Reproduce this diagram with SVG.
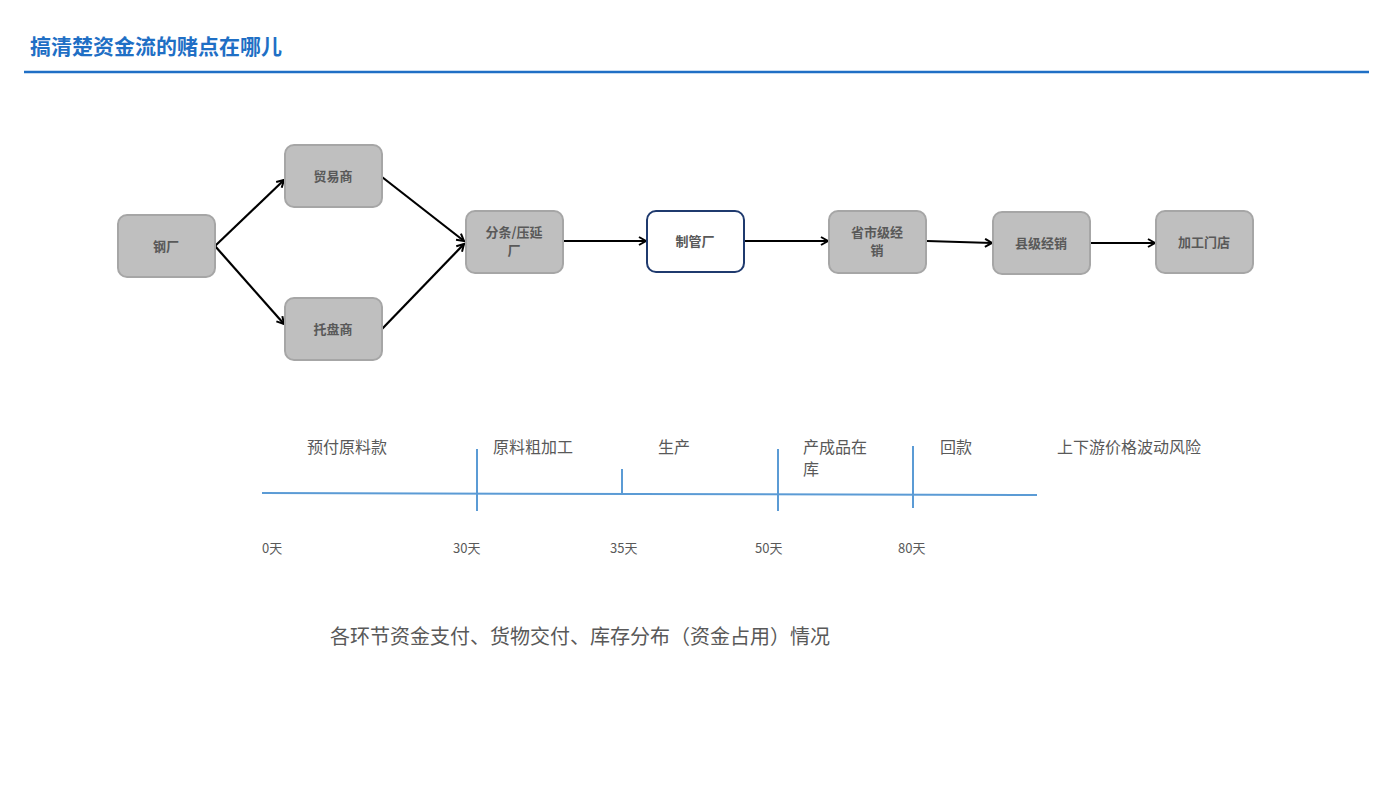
<svg xmlns="http://www.w3.org/2000/svg" width="1399" height="787" viewBox="0 0 1399 787">
<style>
.n rect{fill:#bfbfbf;stroke:#a6a6a6;stroke-width:2}
.n text{font-family:"Noto Sans CJK SC",sans-serif;font-size:13px;font-weight:bold;fill:#595959;text-anchor:middle}
.c line{stroke:#000;stroke-width:2.2;marker-end:url(#a)}
.t{font-family:"Noto Sans CJK SC",sans-serif;font-size:16px;fill:#595959}
.d{font-family:"Noto Sans CJK SC",sans-serif;font-size:13px;fill:#595959}
.tl line{stroke:#5b9bd5;stroke-width:2}
</style>
<defs><marker id="a" markerWidth="10" markerHeight="10" refX="8" refY="5" orient="auto" markerUnits="userSpaceOnUse"><path d="M1,1 L8,5 L1,9" fill="none" stroke="#000" stroke-width="2"/></marker></defs>
<rect width="1399" height="787" fill="#fff"/>
<text x="30" y="54" font-family="Noto Sans CJK SC,sans-serif" font-size="21" font-weight="bold" fill="#1f6fc5">搞清楚资金流的赌点在哪儿</text>
<line x1="24" y1="72" x2="1369" y2="72" stroke="#1f6fc5" stroke-width="2.5"/>
<g class="c">
<line x1="215" y1="246" x2="284" y2="180"/>
<line x1="215" y1="246" x2="284" y2="324"/>
<line x1="382" y1="177" x2="464" y2="241"/>
<line x1="382" y1="329" x2="464" y2="244"/>
<line x1="563" y1="241" x2="646" y2="241"/>
<line x1="745" y1="241" x2="828" y2="241"/>
<line x1="927" y1="241" x2="992" y2="243"/>
<line x1="1090" y1="243" x2="1155" y2="243"/>
</g>
<g id="n1" class="n"><rect x="118" y="215" width="97" height="62" rx="9"/><text x="166" y="251">钢厂</text></g>
<g id="n2" class="n"><rect x="285" y="145" width="97" height="62" rx="9"/><text x="333" y="181">贸易商</text></g>
<g id="n3" class="n"><rect x="285" y="298" width="97" height="62" rx="9"/><text x="333" y="334">托盘商</text></g>
<g id="n4" class="n"><rect x="466" y="211" width="97" height="62" rx="9"/><text x="514" y="237">分条/压延</text><text x="514" y="255">厂</text></g>
<g id="n5" class="n"><rect x="647" y="211" width="97" height="61" rx="9" style="fill:#fff;stroke:#1f3a6e"/><text x="695" y="246">制管厂</text></g>
<g id="n6" class="n"><rect x="829" y="211" width="97" height="62" rx="9"/><text x="877" y="237">省市级经</text><text x="877" y="255">销</text></g>
<g id="n7" class="n"><rect x="993" y="212" width="97" height="62" rx="9"/><text x="1041" y="248">县级经销</text></g>
<g id="n8" class="n"><rect x="1156" y="211" width="97" height="62" rx="9"/><text x="1204" y="247">加工门店</text></g>
<g class="tl">
<line x1="262" y1="493" x2="1037" y2="495"/>
<line x1="477" y1="449" x2="477" y2="511"/>
<line x1="622" y1="469" x2="622" y2="494"/>
<line x1="778" y1="449" x2="778" y2="511"/>
<line x1="913" y1="446" x2="913" y2="508"/>
</g>
<text class="t" x="307" y="453">预付原料款</text>
<text class="t" x="493" y="453">原料粗加工</text>
<text class="t" x="658" y="453">生产</text>
<text class="t" x="803" y="453">产成品在</text>
<text class="t" x="803" y="475">库</text>
<text class="t" x="940" y="453">回款</text>
<text class="t" x="1057" y="453">上下游价格波动风险</text>
<text class="d" x="262" y="553">0天</text>
<text class="d" x="453" y="553">30天</text>
<text class="d" x="610" y="553">35天</text>
<text class="d" x="755" y="553">50天</text>
<text class="d" x="898" y="553">80天</text>
<text x="330" y="644" font-family="Noto Sans CJK SC,sans-serif" font-size="20" fill="#595959">各环节资金支付、货物交付、库存分布（资金占用）情况</text>
</svg>
